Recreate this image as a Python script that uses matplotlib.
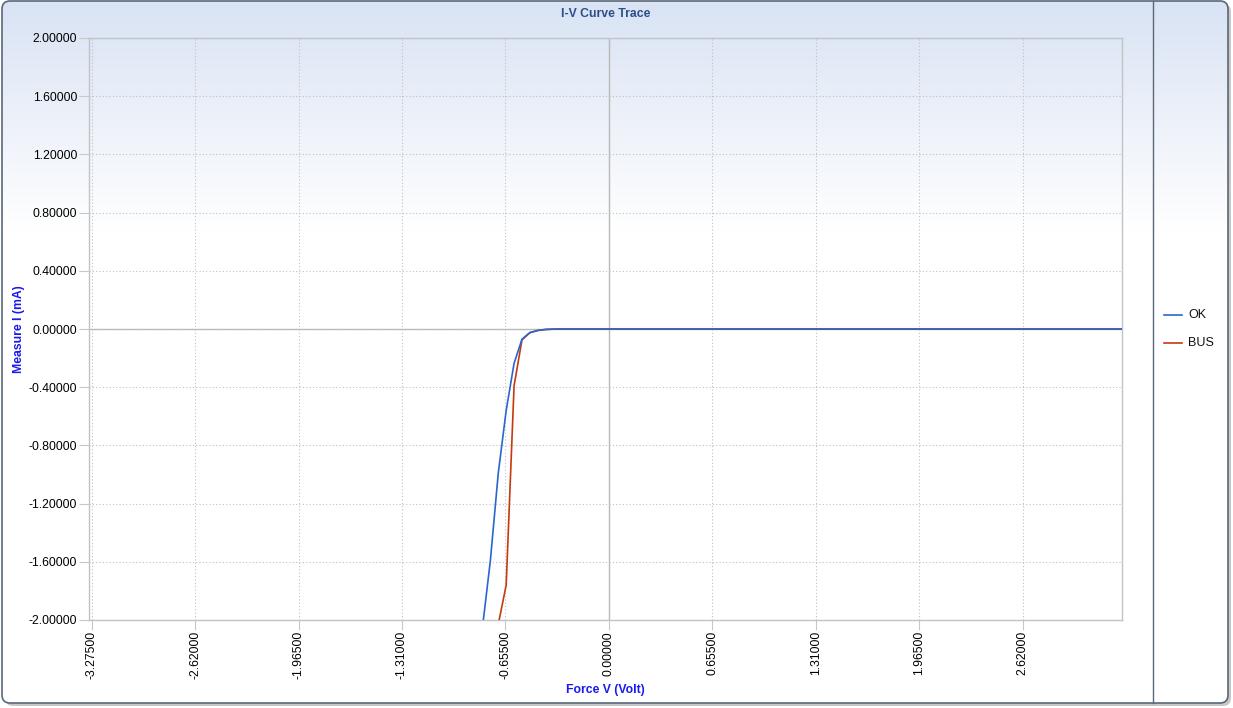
import numpy as np
import matplotlib
matplotlib.use("Agg")
import matplotlib.pyplot as plt
from matplotlib.patches import FancyBboxPatch
from matplotlib.lines import Line2D

# ---- data ----
volts = [-0.85, -0.80, -0.75, -0.70, -0.65, -0.60, -0.55, -0.50, -0.45, -0.40,
         -0.35, -0.30, 0.0, 0.5, 1.0, 1.5, 2.0, 2.5, 3.0, 3.25]
ok_current = [-2.50, -2.05, -1.59, -0.99, -0.56, -0.236, -0.07, -0.025, -0.010, -0.003,
              -0.001, 0.0, 0.0, 0.0, 0.0, 0.0, 0.0, 0.0, 0.0, 0.0]
bus_current = [-2.60, -2.35, -2.20, -2.03, -1.76, -0.39, -0.075, -0.025, -0.010, -0.003,
               -0.001, 0.0, 0.0, 0.0, 0.0, 0.0, 0.0, 0.0, 0.0, 0.0]
series_names = ["OK", "BUS"]
x_ticks = [-3.275, -2.62, -1.965, -1.31, -0.655, 0.0, 0.655, 1.31, 1.965, 2.62]
y_ticks = [-2.0, -1.6, -1.2, -0.8, -0.4, 0.0, 0.4, 0.8, 1.2, 1.6, 2.0]

plt.rcParams['font.family'] = ['Liberation Sans', 'DejaVu Sans']

W, H = 1233, 708
fig = plt.figure(figsize=(W / 100, H / 100), dpi=100)

# background gradient + frame
bg = fig.add_axes([0, 0, 1, 1])
bg.set_xlim(0, W)
bg.set_ylim(H, 0)
bg.axis('off')
grad = np.ones((H, 1, 3))
top = np.array([0.85, 0.89, 0.955])
for i in range(H):
    t = min(1.0, i / 230.0)
    grad[i, 0, :] = top * (1 - t) + np.array([1.0, 1.0, 1.0]) * t
img = bg.imshow(grad, extent=[2, 1228, 703, 1], aspect='auto', zorder=0)
clip = FancyBboxPatch((2, 1), 1226, 702, boxstyle="round,pad=0,rounding_size=8",
                      transform=bg.transData, facecolor='none', edgecolor='none')
bg.add_patch(clip)
img.set_clip_path(clip)
# shadow
shadow = FancyBboxPatch((5, 4), 1226, 702, boxstyle="round,pad=0,rounding_size=8",
                        facecolor='#c8c8c8', edgecolor='none', zorder=-1)
bg.add_patch(shadow)
frame = FancyBboxPatch((2, 1), 1226, 702, boxstyle="round,pad=0,rounding_size=8",
                       facecolor='none', edgecolor='#5a6878', linewidth=1.2, zorder=3)
bg.add_patch(frame)
bg.plot([1153, 1153], [1, 703], color='#5a6878', linewidth=1.0, zorder=3)

# legend in right panel
bg.add_line(Line2D([1164, 1182], [315, 315], color='#2a66cc', linewidth=1.2))
bg.add_line(Line2D([1164, 1182], [343, 343], color='#c43a10', linewidth=1.2))
bg.text(1188, 315, series_names[0], fontsize=9, va='center', ha='left', color='#111111')
bg.text(1188, 343, series_names[1], fontsize=9, va='center', ha='left', color='#111111')

# main axes
left, right, ytop, ybot = 89, 1122, 38, 620
ax = fig.add_axes([left / W, 1 - ybot / H, (right - left) / W, (ybot - ytop) / H])
ax.patch.set_alpha(0)
ax.set_xlim(-3.292, 3.25)
ax.set_ylim(-2.0, 2.0)
ax.set_xticks(x_ticks)
ax.set_yticks(y_ticks)
ax.set_xticklabels([f"{v:.5f}" for v in x_ticks], rotation=90, fontsize=8.8)
ax.set_yticklabels([f"{v:.5f}" for v in y_ticks], fontsize=8.8)
ax.tick_params(axis='both', length=7, color='#c8c8c8', width=0.8)
ax.tick_params(axis='x', pad=1)
ax.tick_params(axis='y', pad=1.5)
ax.grid(True, color='#c0c0c0', linestyle=(0, (1, 2)), linewidth=0.8)
for s in ax.spines.values():
    s.set_color('#c0c4c8')
    s.set_linewidth(1.0)
ax.axhline(0, color='#b8b8b8', linewidth=1.0, zorder=1)
ax.axvline(0, color='#b8b8b8', linewidth=1.0, zorder=1)

ax.plot(volts, bus_current, color='#c43a10', linewidth=1.2, zorder=3, label=series_names[1])
ax.plot(volts, ok_current, color='#2a66cc', linewidth=1.2, zorder=4, label=series_names[0])

ax.set_title("I-V Curve Trace", fontsize=8.8, fontweight='bold', color='#2b4f8a', pad=15)
ax.set_xlabel("Force V (Volt)", fontsize=8.8, fontweight='bold', color='#1a1aee', labelpad=3)
ax.set_ylabel("Measure I (mA)", fontsize=8.8, fontweight='bold', color='#1a1aee', labelpad=3)

fig.savefig("out.png", dpi=100)
